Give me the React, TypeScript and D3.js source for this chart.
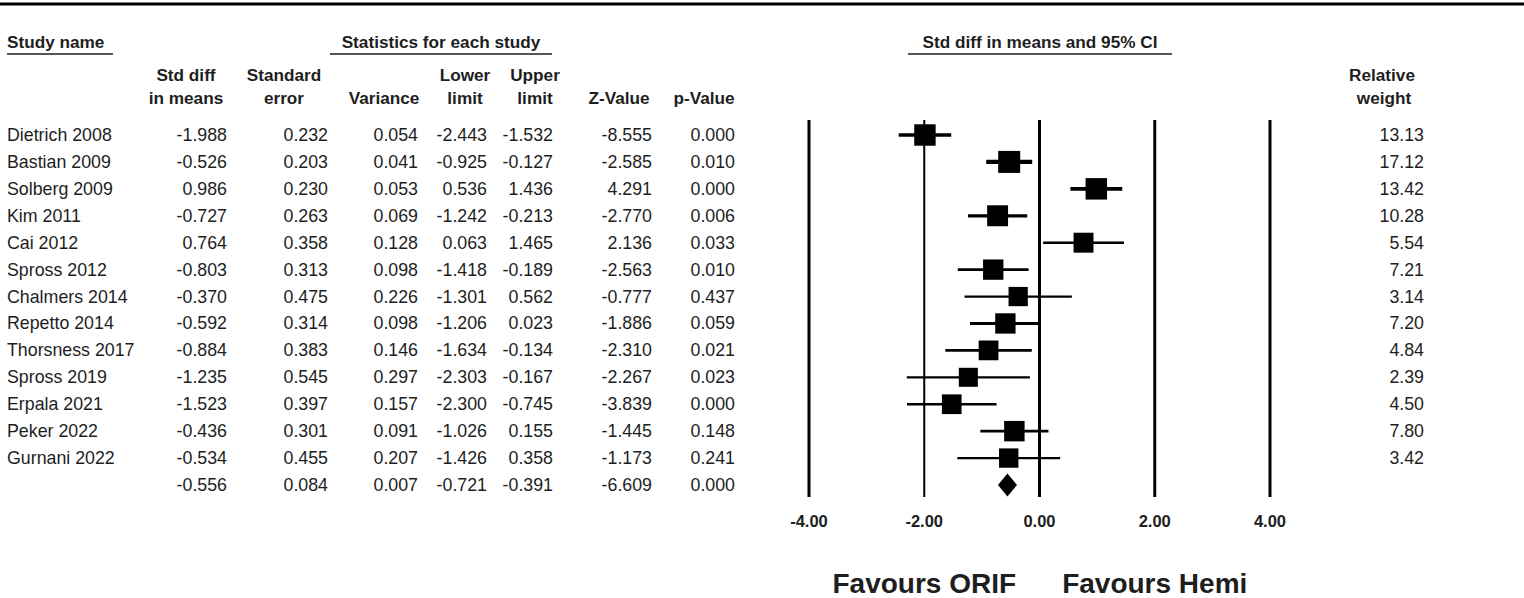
import * as d3 from 'd3'

const STUDIES = [
  'Dietrich 2008', 'Bastian 2009', 'Solberg 2009', 'Kim 2011', 'Cai 2012', 'Spross 2012',
  'Chalmers 2014', 'Repetto 2014', 'Thorsness 2017', 'Spross 2019', 'Erpala 2021',
  'Peker 2022', 'Gurnani 2022',
]
const SMD = [-1.988, -0.526, 0.986, -0.727, 0.764, -0.803, -0.370, -0.592, -0.884, -1.235, -1.523, -0.436, -0.534]
const SE = [0.232, 0.203, 0.230, 0.263, 0.358, 0.313, 0.475, 0.314, 0.383, 0.545, 0.397, 0.301, 0.455]
const VARIANCE = [0.054, 0.041, 0.053, 0.069, 0.128, 0.098, 0.226, 0.098, 0.146, 0.297, 0.157, 0.091, 0.207]
const LOWER = [-2.443, -0.925, 0.536, -1.242, 0.063, -1.418, -1.301, -1.206, -1.634, -2.303, -2.300, -1.026, -1.426]
const UPPER = [-1.532, -0.127, 1.436, -0.213, 1.465, -0.189, 0.562, 0.023, -0.134, -0.167, -0.745, 0.155, 0.358]
const ZVAL = [-8.555, -2.585, 4.291, -2.770, 2.136, -2.563, -0.777, -1.886, -2.310, -2.267, -3.839, -1.445, -1.173]
const PVAL = [0.000, 0.010, 0.000, 0.006, 0.033, 0.010, 0.437, 0.059, 0.021, 0.023, 0.000, 0.148, 0.241]
const WEIGHT = [13.13, 17.12, 13.42, 10.28, 5.54, 7.21, 3.14, 7.20, 4.84, 2.39, 4.50, 7.80, 3.42]

// pooled (summary) row
const POOLED = { smd: -0.556, se: 0.084, variance: 0.007, lower: -0.721, upper: -0.391, z: -6.609, p: 0.000 }

const X_TICKS = [-4, -2, 0, 2, 4]
const TICK_WIDTHS = [3, 2, 3, 3, 3]

const FONT = '"Liberation Sans", Arial, sans-serif'
const INK = '#1e1e1e'

// stats columns: right edge of values, header center
const COLS = [
  { head: ['Std diff', 'in means'], right: 227, center: 186 },
  { head: ['Standard', 'error'], right: 328, center: 284 },
  { head: ['', 'Variance'], right: 418, center: 384 },
  { head: ['Lower', 'limit'], right: 487, center: 465 },
  { head: ['Upper', 'limit'], right: 553, center: 535 },
  { head: ['', 'Z-Value'], right: 652, center: 619 },
  { head: ['', 'p-Value'], right: 735, center: 704 },
]

// plain hyphen minus, like the source software prints
const fmt3 = (v: number) => v.toFixed(3)
const fmt2 = (v: number) => v.toFixed(2)

export default function App() {
  const width = 1524
  const height = 598

  const x = d3.scaleLinear().domain([-4, 4]).range([809, 1270])
  const rowY = d3.scaleLinear().domain([0, 13]).range([135, 485])
  const boxSize = d3.scaleSqrt().domain([2.39, 17.12]).range([19, 22])
  const lineW = d3.scaleLinear().domain([2.39, 17.12]).range([2.2, 4.2])

  const rows = STUDIES.map((name, i) => ({
    name,
    vals: [SMD[i], SE[i], VARIANCE[i], LOWER[i], UPPER[i], ZVAL[i], PVAL[i]],
    smd: SMD[i], lower: LOWER[i], upper: UPPER[i], weight: WEIGHT[i],
  }))
  const pooledVals = [POOLED.smd, POOLED.se, POOLED.variance, POOLED.lower, POOLED.upper, POOLED.z, POOLED.p]

  const dy = rowY(13)
  const diamond = [
    [x(POOLED.lower), dy], [x(POOLED.smd), dy - 11.5], [x(POOLED.upper), dy], [x(POOLED.smd), dy + 11.5],
  ]

  return (
    <svg width={width} height={height} style={{ position: 'absolute', left: 0, top: 0, background: '#fff' }}
      fontFamily={FONT}>
      {/* top rule */}
      <line x1={0} x2={width} y1={4} y2={4} stroke="#000" strokeWidth={3} />

      {/* section headers */}
      <g fontWeight="bold" fontSize={17.2} fill={INK}>
        <text x={7} y={48}>Study name</text>
        <line x1={7} x2={113} y1={54} y2={54} stroke={INK} strokeWidth={1.5} />
        <text x={441} y={48} textAnchor="middle">Statistics for each study</text>
        <line x1={330} x2={552} y1={54} y2={54} stroke={INK} strokeWidth={1.5} />
        <text x={1040} y={48} textAnchor="middle">Std diff in means and 95% CI</text>
        <line x1={908} x2={1172} y1={54} y2={54} stroke={INK} strokeWidth={1.5} />
        {COLS.map((c, i) => (
          <g key={i}>
            <text x={c.center} y={81} textAnchor="middle">{c.head[0]}</text>
            <text x={c.center} y={104} textAnchor="middle">{c.head[1]}</text>
          </g>
        ))}
        <text x={1382} y={81} textAnchor="middle">Relative</text>
        <text x={1384} y={104} textAnchor="middle">weight</text>
      </g>

      {/* table body */}
      <g fontSize={17.8} fill={INK}>
        {rows.map((r, i) => (
          <g key={r.name}>
            <text x={7} y={rowY(i) + 6}>{r.name}</text>
            {r.vals.map((v, j) => (
              <text key={j} x={COLS[j].right} y={rowY(i) + 6} textAnchor="end">{fmt3(v)}</text>
            ))}
            <text x={1424} y={rowY(i) + 6} textAnchor="end">{fmt2(r.weight)}</text>
          </g>
        ))}
        {pooledVals.map((v, j) => (
          <text key={j} x={COLS[j].right} y={rowY(13) + 6} textAnchor="end">{fmt3(v)}</text>
        ))}
      </g>

      {/* forest plot grid */}
      {X_TICKS.map((t, i) => (
        <line key={t} x1={x(t)} x2={x(t)} y1={120} y2={497} stroke="#000" strokeWidth={TICK_WIDTHS[i]} />
      ))}

      {/* studies */}
      {rows.map((r, i) => {
        const s = boxSize(r.weight)
        return (
          <g key={r.name}>
            <line x1={x(r.lower)} x2={x(r.upper)} y1={rowY(i)} y2={rowY(i)} stroke="#000" strokeWidth={lineW(r.weight)} />
            <rect x={x(r.smd) - s / 2} y={rowY(i) - s / 2} width={s} height={s} fill="#000" />
          </g>
        )
      })}

      <path d={d3.line()(diamond as [number, number][]) + 'Z'} fill="#000" />

      {/* axis labels */}
      <g fontWeight="bold" fontSize={16.5} fill={INK}>
        {X_TICKS.map(t => (
          <text key={t} x={x(t)} y={527} textAnchor="middle">{fmt2(t)}</text>
        ))}
      </g>

      <g fontWeight="bold" fontSize={28} fill={INK}>
        <text x={x(-2)} y={593} textAnchor="middle">Favours ORIF</text>
        <text x={x(2)} y={593} textAnchor="middle">Favours Hemi</text>
      </g>
    </svg>
  )
}
